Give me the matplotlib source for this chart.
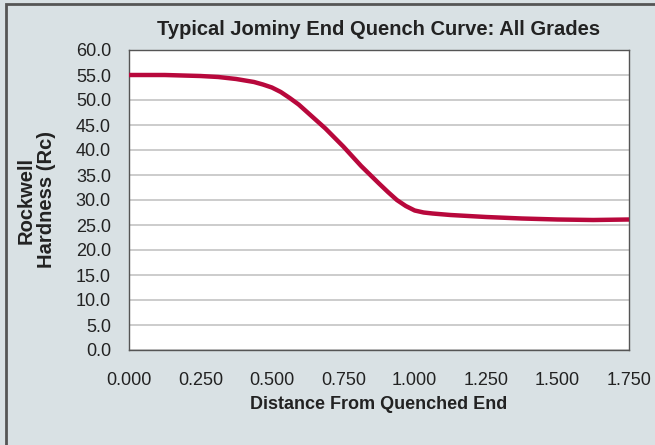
import matplotlib
matplotlib.use('Agg')
import matplotlib.pyplot as plt
from matplotlib.patches import Rectangle

# distance from the quenched end (in) and hardness (Rc)
distance = [0.0, 0.125, 0.25, 0.3125, 0.375, 0.4375, 0.46875, 0.5, 0.53125,
            0.5625, 0.59375, 0.625, 0.6875, 0.75, 0.8125, 0.875, 0.90625,
            0.9375, 0.96875, 1.0, 1.03125, 1.0625, 1.125, 1.25, 1.375, 1.5,
            1.625, 1.75]
hardness = [55.0, 55.0, 54.8, 54.6, 54.2, 53.6, 53.1, 52.5, 51.6,
            50.4, 49.1, 47.5, 44.3, 40.7, 36.8, 33.3, 31.6,
            30.0, 28.8, 27.9, 27.5, 27.3, 27.0, 26.6, 26.3, 26.1,
            26.0, 26.1]

x_ticks = [0.0, 0.25, 0.5, 0.75, 1.0, 1.25, 1.5, 1.75]
y_ticks = [0, 5, 10, 15, 20, 25, 30, 35, 40, 45, 50, 55, 60]

bg = '#d9e1e4'
plt.rcParams['font.family'] = ['Liberation Sans', 'DejaVu Sans']

fig = plt.figure(figsize=(6.55, 4.45), dpi=100, facecolor=bg)
ax = fig.add_axes([129 / 655, 95 / 445, 500 / 655, 300 / 445])

# outer frame: only left and top edges are visible
fig.patches.append(Rectangle((6 / 655, -0.1), 1.2, 1.1 - 4 / 445,
                             transform=fig.transFigure, fill=False,
                             edgecolor='#555555', linewidth=2))

ax.plot(distance, hardness, color='#b8083c', linewidth=3.2,
        solid_capstyle='butt', solid_joinstyle='round', zorder=3)

ax.set_xlim(0, 1.75)
ax.set_ylim(0, 60)
ax.set_xticks(x_ticks)
ax.set_xticklabels([f'{t:.3f}' for t in x_ticks])
ax.set_yticks(y_ticks)
ax.set_yticklabels([f'{t:.1f}' for t in y_ticks])
ax.grid(axis='y', color='#c4c4c4', linewidth=1.2)
ax.set_axisbelow(True)
ax.tick_params(length=0, labelsize=13, labelcolor='#222222')
ax.tick_params(axis='y', pad=13)
ax.tick_params(axis='x', pad=16)
for s in ax.spines.values():
    s.set_color('#555555')
    s.set_linewidth(1.0)

ax.set_title('Typical Jominy End Quench Curve: All Grades', fontsize=14.5,
             fontweight='bold', color='#222222', pad=11)
ax.set_xlabel('Distance From Quenched End', fontsize=13,
              fontweight='bold', color='#222222', labelpad=5)
ax.set_ylabel('Rockwell\nHardness (Rc)', fontsize=14.5, fontweight='bold',
              color='#222222', labelpad=14, linespacing=1.1)

fig.savefig('out.png', dpi=100, facecolor=bg)
